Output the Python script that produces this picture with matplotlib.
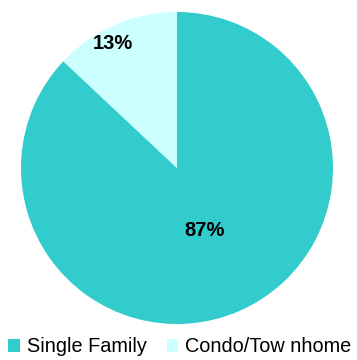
import matplotlib
matplotlib.use("Agg")
import matplotlib.pyplot as plt
import numpy as np

categories = ["Single Family", "Condo/Tow nhome"]
values = [87, 13]
colors = ["#33CCCC", "#CCFFFF"]
label_dist = [0.44, 0.9]
label_ang_offset = [0, 4]

plt.rcParams['font.family'] = ['Liberation Sans', 'DejaVu Sans']

fig = plt.figure(figsize=(3.57, 3.6), dpi=100)
ax = fig.add_axes([21/357, 1 - 324/360, 312/357, 312/360])
wedges, _ = ax.pie(values, colors=colors, startangle=90, counterclock=False,
                   wedgeprops=dict(linewidth=0))
total = sum(values)
for w, v, d, o in zip(wedges, values, label_dist, label_ang_offset):
    ang = np.deg2rad((w.theta1 + w.theta2) / 2 + o)
    ax.text(d * np.cos(ang), d * np.sin(ang), f"{round(v / total * 100)}%",
            ha="center", va="center", fontsize=14.5, fontweight="bold", color="black")
ax.set_aspect("equal")
ax.set_xlim(-1, 1)
ax.set_ylim(-1, 1)
ax.axis("off")

fig.legend(wedges, categories, loc="lower left", bbox_to_anchor=(0.0, -0.012), ncol=2,
           frameon=False, fontsize=14.3, handlelength=0.6, handleheight=0.6,
           handletextpad=0.35, columnspacing=1.0, borderaxespad=0.0)

fig.savefig("out.png", dpi=100)
